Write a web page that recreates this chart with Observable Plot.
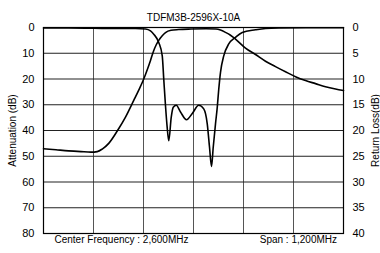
<!DOCTYPE html>
<html>
<head>
<meta charset="utf-8">
<script src="https://cdn.jsdelivr.net/npm/d3@7"></script>
<script src="https://cdn.jsdelivr.net/npm/@observablehq/plot@0.6"></script>
<style>
  html, body { margin: 0; padding: 0; background: #fff; }
  #chart { width: 380px; height: 253px; }
</style>
</head>
<body>
<div id="chart"></div>
<script>
// ---- Text ----
const title = "TDFM3B-2596X-10A";
const leftLabel = "Attenuation (dB)";
const rightLabel = "Return Loss(dB)";
const centerNote = "Center Frequency : 2,600MHz";
const spanNote = "Span : 1,200MHz";

// ---- Axes / grid ----
const freqGrid = [2000, 2200, 2400, 2600, 2800, 3000, 3200];
const attTicks = [0, 10, 20, 30, 40, 50, 60, 70, 80];
const rlTicks = [0, 5, 10, 15, 20, 25, 30, 35, 40];

// ---- Attenuation curve (MHz, dB, left axis) ----
const attFreq = [2000, 2050, 2100, 2150, 2190, 2215, 2235, 2261, 2295, 2328, 2361, 2381, 2401, 2415, 2428, 2440, 2450, 2461, 2475, 2488, 2510, 2540, 2590, 2650, 2690, 2708, 2728, 2748, 2768, 2808, 2848, 2888, 2928, 2968, 3008, 3048, 3088, 3128, 3168, 3200];
const attDb   = [47.1, 47.5, 47.9, 48.2, 48.4, 48.2, 47.2, 45.0, 40.2, 34.8, 28.3, 24.3, 20.0, 16.4, 12.8, 9.2, 6.9, 5.0, 3.2, 2.0, 1.1, 0.8, 0.6, 0.5, 0.6, 1.0, 1.9, 3.0, 4.5, 8.0, 10.5, 13.1, 15.2, 17.2, 19.1, 20.6, 21.8, 23.0, 23.9, 24.5];

// ---- Return loss curve (MHz, dB, right axis) ----
const rlFreq = [2000, 2100, 2200, 2300, 2368, 2408, 2428, 2441, 2461, 2475, 2481, 2488, 2494, 2501, 2511, 2519, 2531, 2548, 2572, 2595, 2621, 2641, 2655, 2664, 2672, 2679, 2688, 2695, 2701, 2708, 2721, 2741, 2768, 2795, 2848, 2888, 2950, 3050, 3200];
const rlDb   = [0.1, 0.1, 0.15, 0.2, 0.2, 0.3, 0.65, 1.3, 2.9, 5.5, 10.0, 15.2, 19.0, 22.0, 17.4, 15.5, 15.1, 16.4, 17.9, 16.7, 15.1, 15.8, 18.7, 23.2, 27.0, 23.2, 18.7, 15.5, 12.0, 8.7, 5.5, 3.2, 1.9, 0.95, 0.45, 0.2, 0.1, 0.05, 0.05];

const attData = attFreq.map((f, i) => ({f, db: attDb[i]}));
const rlData = rlFreq.map((f, i) => ({f, rl: rlDb[i]}));

const attMax = attTicks[attTicks.length - 1];
const rlMax = rlTicks[rlTicks.length - 1];
const rlToAtt = attMax / rlMax;

const font = "'Liberation Sans', Arial, Helvetica, sans-serif";

const chart = Plot.plot({
  width: 380,
  height: 253,
  marginTop: 27,
  marginBottom: 20,
  marginLeft: 43,
  marginRight: 37,
  style: {fontFamily: font, fontSize: "11px", color: "#000", background: "#fff", overflow: "visible"},
  x: {domain: [freqGrid[0], freqGrid[freqGrid.length - 1]], axis: null},
  y: {domain: [0, attMax], reverse: true, axis: null},
  marks: [
    Plot.gridX(freqGrid, {stroke: "#555", strokeOpacity: 1, strokeWidth: 1}),
    Plot.gridY(attTicks, {stroke: "#222", strokeOpacity: 1, strokeWidth: 1.2}),
    Plot.axisY(attTicks, {anchor: "left", tickSize: 0, tickPadding: 9, label: null, fontSize: 11}),
    Plot.axisY(attTicks, {anchor: "right", tickSize: 0, tickPadding: 9, label: null, fontSize: 11,
      tickFormat: d => String(rlTicks[attTicks.indexOf(d)])}),
    Plot.line(attData, {x: "f", y: "db", curve: "monotone-x", stroke: "#000", strokeWidth: 1.6}),
    Plot.line(rlData, {x: "f", y: d => d.rl * rlToAtt, curve: "monotone-x", stroke: "#000", strokeWidth: 1.6}),
    Plot.frame({stroke: "#000", strokeWidth: 1.2}),
    Plot.text([title], {frameAnchor: "top", dy: -13.5, fontSize: 10, textAnchor: "middle"}),
    Plot.text([leftLabel], {frameAnchor: "left", dx: -31, rotate: -90, fontSize: 10, textAnchor: "middle"}),
    Plot.text([rightLabel], {frameAnchor: "right", dx: 32, rotate: -90, fontSize: 10, textAnchor: "middle"}),
    Plot.text([centerNote], {frameAnchor: "bottom-left", dx: 11, dy: 9.5, fontSize: 10, textAnchor: "start"}),
    Plot.text([spanNote], {frameAnchor: "bottom-right", dx: -6.5, dy: 9.5, fontSize: 10, textAnchor: "end"})
  ]
});

document.getElementById("chart").appendChild(chart);
</script>
</body>
</html>
